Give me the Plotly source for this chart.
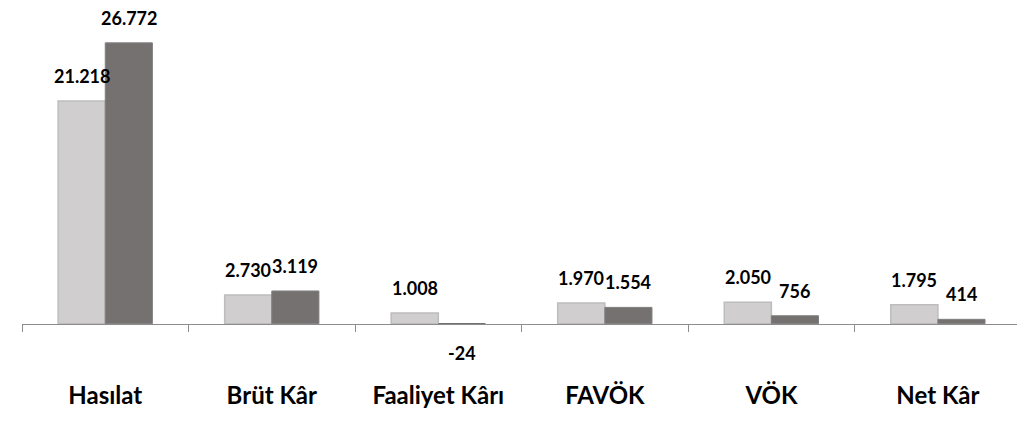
import plotly.graph_objects as go

# ---------------------------------------------------------------------------
# Data
# ---------------------------------------------------------------------------
categories = ["Hasılat", "Brüt Kâr", "Faaliyet Kârı", "FAVÖK", "VÖK", "Net Kâr"]
prev_values = [21218, 2730, 1008, 1970, 2050, 1795]
curr_values = [26772, 3119, -24, 1554, 756, 414]

COLOR_PREV = "#d0cece"
COLOR_PREV_EDGE = "#bdbdbd"
COLOR_CURR = "#767171"
COLOR_CURR_EDGE = "#7f7f7f"
COLOR_AXIS = "#8c8c8c"
FONT = "Lato"


def tr_fmt(v: int) -> str:
    """Turkish thousands separator."""
    return f"{v:,}".replace(",", ".")


fig = go.Figure()

fig.add_trace(go.Bar(
    name="Önceki",
    x=categories,
    y=prev_values,
    marker=dict(color=COLOR_PREV, line=dict(color=COLOR_PREV_EDGE, width=1.5)),
))

# negative bar is too thin to show an outline in the original
fig.add_trace(go.Bar(
    name="Cari",
    x=categories,
    y=curr_values,
    marker=dict(
        color=COLOR_CURR,
        line=dict(color=COLOR_CURR_EDGE, width=[1 if v > 0 else 0 for v in curr_values]),
    ),
))

# data labels
annotations = []
for shift, values in ((-23.5, prev_values), (23.5, curr_values)):
    for cat, v in zip(categories, values):
        annotations.append(dict(
            x=cat,
            y=v,
            xref="x",
            yref="y",
            text=tr_fmt(v),
            showarrow=False,
            xshift=shift,
            yanchor="bottom" if v >= 0 else "top",
            yshift=12 if v >= 0 else -16,
            font=dict(family=FONT, size=18, color="#000000"),
        ))

fig.update_layout(
    width=1017,
    height=425,
    margin=dict(l=22, r=0, t=0, b=101),
    paper_bgcolor="white",
    plot_bgcolor="white",
    showlegend=False,
    barmode="group",
    bargap=0.434,
    bargroupgap=0,
    annotations=annotations,
    xaxis=dict(
        range=[-0.5, 5.475],
        automargin=False,
        showline=True,
        linecolor=COLOR_AXIS,
        linewidth=1,
        ticks="outside",
        tickson="boundaries",
        ticklen=7,
        tickcolor=COLOR_AXIS,
        showgrid=False,
        ticklabelstandoff=50,
        tickfont=dict(family=FONT, size=24, color="#000000", weight="bold"),
    ),
    yaxis=dict(
        range=[-30, 30857],
        automargin=False,
        visible=False,
        showgrid=False,
        zeroline=False,
    ),
    font=dict(family=FONT, weight="bold"),
)

fig.write_html(
    "out.html",
    config={"displayModeBar": False},
    post_script="document.body.style.margin='0';",
)
